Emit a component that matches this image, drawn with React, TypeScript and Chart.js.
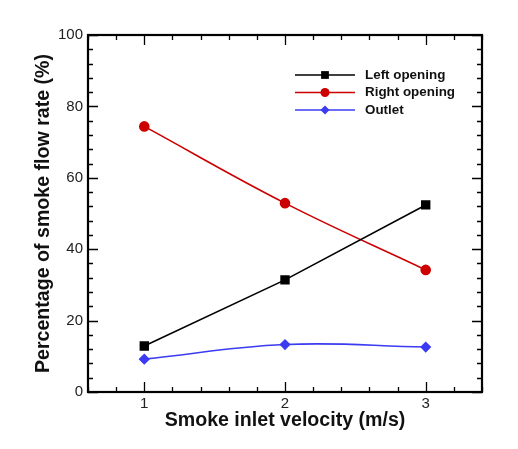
import React, { useEffect, useRef } from 'react';
import { Chart, registerables } from 'chart.js';

Chart.register(...registerables);

const velocities = [1, 2, 3];
const leftOpening = [12.9, 31.4, 52.4];
const rightOpening = [74.4, 52.9, 34.2];
const outlet = [9.2, 13.3, 12.6];
const seriesNames = ['Left opening', 'Right opening', 'Outlet'];
const xTickValues = [1, 2, 3];
const yTickValues = [0, 20, 40, 60, 80, 100];
const xTitle = 'Smoke inlet velocity (m/s)';
const yTitle = 'Percentage of smoke flow rate (%)';

const FONT = 'Arial, "Liberation Sans", Helvetica, sans-serif';
const BLACK = '#000000';
const RED = '#cc0000';
const BLUE = '#3b3bf2';

function drawMarker(ctx: CanvasRenderingContext2D, style: string, x: number, y: number, r: number, color: string) {
  ctx.save();
  ctx.fillStyle = color;
  ctx.beginPath();
  if (style === 'rect') {
    const s = r * Math.SQRT1_2;
    ctx.rect(x - s, y - s, 2 * s, 2 * s);
  } else if (style === 'circle') {
    ctx.arc(x, y, r, 0, Math.PI * 2);
  } else {
    ctx.moveTo(x, y - r);
    ctx.lineTo(x + r, y);
    ctx.lineTo(x, y + r);
    ctx.lineTo(x - r, y);
    ctx.closePath();
  }
  ctx.fill();
  ctx.restore();
}

const framePlugin = {
  id: 'frameTicks',
  beforeDatasetsDraw(chart: any) {
    const ctx = chart.ctx as CanvasRenderingContext2D;
    const { left, right, top, bottom } = chart.chartArea;
    const xs = chart.scales.x;
    const ys = chart.scales.y;
    ctx.save();
    ctx.strokeStyle = '#000';
    ctx.lineWidth = 1.3;
    for (let i = 3; i <= 17; i++) {
      const v = i / 5;
      const px = Math.round(xs.getPixelForValue(v)) + 0.5;
      const major = i % 5 === 0;
      const len = major ? 10 : 5;
      ctx.beginPath();
      ctx.moveTo(px, bottom);
      ctx.lineTo(px, bottom - len);
      ctx.moveTo(px, top);
      ctx.lineTo(px, top + len);
      ctx.stroke();
    }
    for (let i = 0; i <= 25; i++) {
      const v = i * 4;
      const py = Math.round(ys.getPixelForValue(v)) + 0.5;
      const major = i % 5 === 0;
      const len = major ? 10 : 5;
      ctx.beginPath();
      ctx.moveTo(left, py);
      ctx.lineTo(left + len, py);
      ctx.moveTo(right, py);
      ctx.lineTo(right - len, py);
      ctx.stroke();
    }
    ctx.lineWidth = 2.2;
    ctx.strokeRect(left, top, right - left, bottom - top);
    ctx.restore();
  },
  afterDraw(chart: any) {
    const ctx = chart.ctx as CanvasRenderingContext2D;
    const { left, right, top, bottom } = chart.chartArea;
    ctx.save();
    ctx.fillStyle = '#111';
    ctx.font = `bold 19.6px ${FONT}`;
    ctx.textAlign = 'center';
    ctx.textBaseline = 'middle';
    ctx.fillText(xTitle, (left + right) / 2, 421);
    ctx.translate(44, (top + bottom) / 2);
    ctx.rotate(-Math.PI / 2);
    ctx.fillText(yTitle, 0, 0);
    ctx.restore();

    const entries = [
      { name: seriesNames[0], color: BLACK, style: 'rect', r: 5.5 },
      { name: seriesNames[1], color: RED, style: 'circle', r: 4.5 },
      { name: seriesNames[2], color: BLUE, style: 'rectRot', r: 4.5 },
    ];
    const rowsY = [75, 92.5, 110];
    ctx.save();
    entries.forEach((e, i) => {
      const y = rowsY[i];
      ctx.strokeStyle = e.color;
      ctx.lineWidth = 1.6;
      ctx.beginPath();
      ctx.moveTo(295, y);
      ctx.lineTo(355, y);
      ctx.stroke();
      drawMarker(ctx, e.style, 325, y, e.r, e.color);
      ctx.fillStyle = '#111';
      ctx.font = `bold 13.4px ${FONT}`;
      ctx.textAlign = 'left';
      ctx.textBaseline = 'middle';
      ctx.fillText(e.name, 365, y);
    });
    ctx.restore();
  },
};

export default function App() {
  const canvasRef = useRef<HTMLCanvasElement | null>(null);

  useEffect(() => {
    const canvas = canvasRef.current;
    if (!canvas) return;
    const toPts = (vals: number[]) => velocities.map((x, i) => ({ x, y: vals[i] }));
    const chart = new Chart(canvas, {
      type: 'line',
      data: {
        datasets: [
          {
            label: seriesNames[0],
            data: toPts(leftOpening),
            borderColor: BLACK,
            backgroundColor: BLACK,
            pointBackgroundColor: BLACK,
            pointBorderColor: BLACK,
            pointStyle: 'rect',
            pointRadius: 5.5,
            borderWidth: 1.6,
            tension: 0,
          },
          {
            label: seriesNames[1],
            data: toPts(rightOpening),
            borderColor: RED,
            backgroundColor: RED,
            pointBackgroundColor: RED,
            pointBorderColor: RED,
            pointStyle: 'circle',
            pointRadius: 4.5,
            borderWidth: 1.6,
            tension: 0.4,
          },
          {
            label: seriesNames[2],
            data: toPts(outlet),
            borderColor: BLUE,
            backgroundColor: BLUE,
            pointBackgroundColor: BLUE,
            pointBorderColor: BLUE,
            pointStyle: 'rectRot',
            pointRadius: 4.5,
            borderWidth: 1.6,
            tension: 0.4,
          },
        ],
      },
      options: {
        animation: false,
        responsive: true,
        maintainAspectRatio: false,
        layout: { padding: { top: 35, right: 36, left: 0, bottom: 0 } },
        plugins: { legend: { display: false }, tooltip: { enabled: false } },
        scales: {
          x: {
            type: 'linear',
            min: 0.6,
            max: 3.4,
            afterBuildTicks: (s: any) => {
              s.ticks = xTickValues.map((v) => ({ value: v }));
            },
            afterFit: (s: any) => {
              s.height = 57;
            },
            grid: { display: false, drawTicks: false },
            border: { display: false },
            ticks: {
              padding: 3,
              autoSkip: false,
              maxRotation: 0,
              color: '#222',
              font: { family: FONT, size: 15 },
              callback: (v: any) => String(v),
            },
          },
          y: {
            type: 'linear',
            min: 0,
            max: 100,
            afterBuildTicks: (s: any) => {
              s.ticks = yTickValues.map((v) => ({ value: v }));
            },
            afterFit: (s: any) => {
              s.width = 88;
            },
            grid: { display: false, drawTicks: false },
            border: { display: false },
            ticks: {
              padding: 5,
              autoSkip: false,
              color: '#222',
              font: { family: FONT, size: 15 },
              callback: (v: any) => String(v),
            },
          },
        },
      },
      plugins: [framePlugin],
    });
    return () => chart.destroy();
  }, []);

  return (
    <div style={{ position: 'absolute', left: 0, top: 0, width: 518, height: 449, background: '#fff' }}>
      <canvas ref={canvasRef} />
    </div>
  );
}
